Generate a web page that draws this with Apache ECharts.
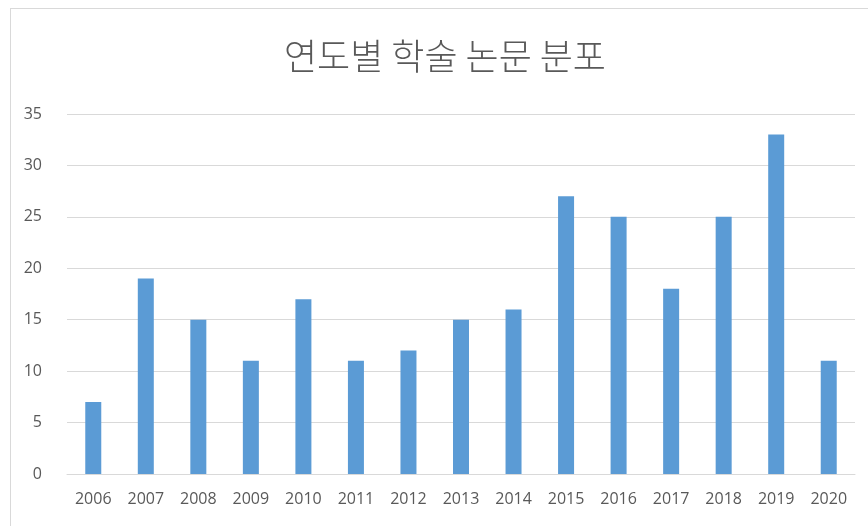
<!DOCTYPE html>
<html><head><meta charset="utf-8">
<script src="https://cdn.jsdelivr.net/npm/echarts@6/dist/echarts.min.js"></script>
<style>html,body{margin:0;padding:0;background:#fff}#c{width:868px;height:526px}
#frame{position:absolute;left:10px;top:8px;width:866px;height:520px;border:1px solid #d9d9d9;box-sizing:border-box;pointer-events:none}</style>
</head><body><div id="c"></div><div id="frame"></div>
<script>
const titleText = '연도별 학술 논문 분포';
const years = ['2006','2007','2008','2009','2010','2011','2012','2013','2014','2015','2016','2017','2018','2019','2020'];
const papers = [7,19,15,11,17,11,12,15,16,27,25,18,25,33,11];
const yTicks = {min:0, max:35, interval:5};
const chart = echarts.init(document.getElementById('c'));
chart.setOption({
  animation:false,
  title:{text:titleText,left:279,top:33,textStyle:{fontFamily:'Noto Sans CJK KR',fontSize:36,fontWeight:300,color:'#595959'}},
  grid:{left:67,right:13,top:114,bottom:52},
  xAxis:{type:'category',data:years,axisTick:{show:false},axisLine:{lineStyle:{color:'#d9d9d9'}},
    axisLabel:{color:'#595959',fontSize:16,fontFamily:'Open Sans',margin:17}},
  yAxis:{type:'value',min:yTicks.min,max:yTicks.max,interval:yTicks.interval,axisLine:{show:false},axisTick:{show:false},
    splitLine:{lineStyle:{color:'#d9d9d9'}},axisLabel:{color:'#595959',fontSize:16,fontFamily:'Open Sans',margin:25}},
  series:[{type:'bar',data:papers,barWidth:16,itemStyle:{color:'#5b9bd5'}}]
});
</script></body></html>
